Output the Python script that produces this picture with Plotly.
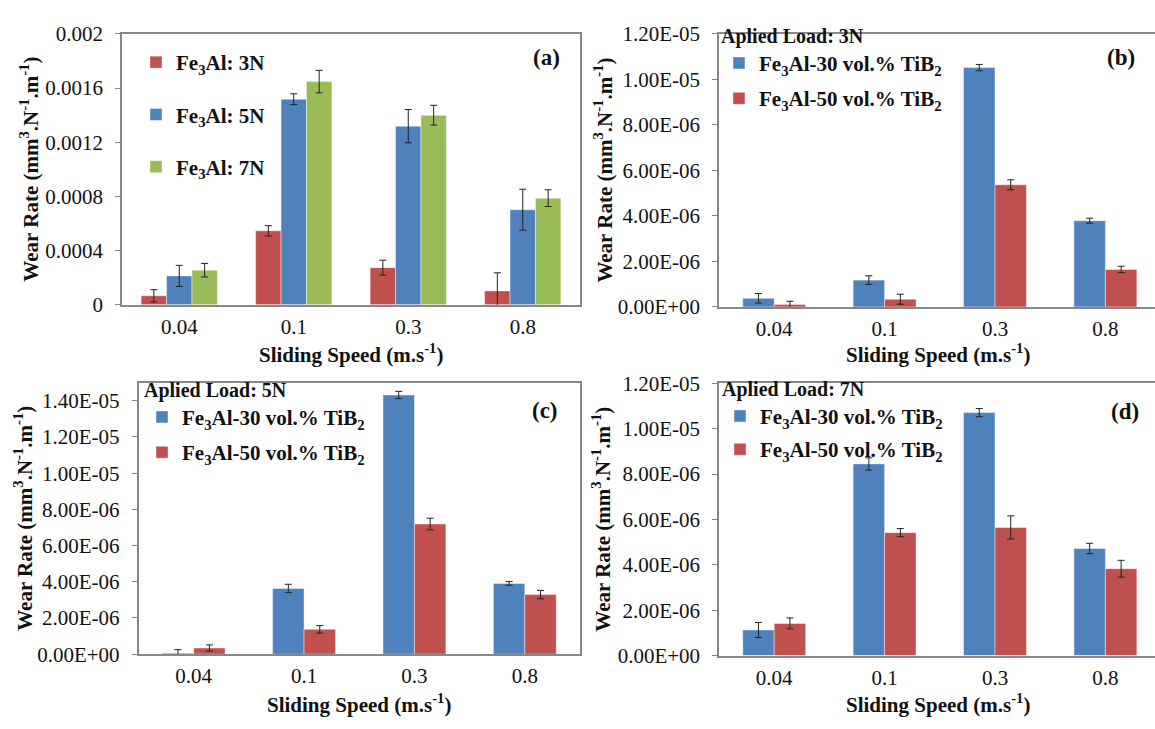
import plotly.graph_objects as go

W, H = 1155, 729

speeds = ["0.04", "0.1", "0.3", "0.8"]

# (a) Fe3Al wear rate at three loads
a_3N = [0.000066, 0.000546, 0.000274, 0.000102]
a_3N_err = [0.000045, 0.000038, 0.000055, 0.000134]
a_5N = [0.000213, 0.001518, 0.001319, 0.000702]
a_5N_err = [0.000078, 0.000040, 0.000123, 0.000151]
a_7N = [0.000255, 0.001648, 0.001400, 0.000787]
a_7N_err = [0.000050, 0.000083, 0.000073, 0.000062]

# (b) applied load 3N
b_30 = [0.38e-6, 1.18e-6, 10.52e-6, 3.79e-6]
b_30_err = [0.21e-6, 0.19e-6, 0.14e-6, 0.11e-6]
b_50 = [0.11e-6, 0.34e-6, 5.37e-6, 1.65e-6]
b_50_err = [0.14e-6, 0.22e-6, 0.22e-6, 0.14e-6]

# (c) applied load 5N
c_30 = [0.05e-6, 3.63e-6, 14.32e-6, 3.91e-6]
c_30_err = [0.20e-6, 0.23e-6, 0.20e-6, 0.10e-6]
c_50 = [0.34e-6, 1.37e-6, 7.19e-6, 3.29e-6]
c_50_err = [0.17e-6, 0.21e-6, 0.32e-6, 0.23e-6]

# (d) applied load 7N
d_30 = [1.13e-6, 8.45e-6, 10.71e-6, 4.72e-6]
d_30_err = [0.33e-6, 0.27e-6, 0.18e-6, 0.23e-6]
d_50 = [1.42e-6, 5.42e-6, 5.65e-6, 3.83e-6]
d_50_err = [0.24e-6, 0.18e-6, 0.51e-6, 0.37e-6]

a_tickvals = [0, 0.0004, 0.0008, 0.0012, 0.0016, 0.002]
a_ticktext = ["0", "0.0004", "0.0008", "0.0012", "0.0016", "0.002"]
bd_tickvals = [0, 2e-6, 4e-6, 6e-6, 8e-6, 10e-6, 12e-6]
bd_ticktext = ["0.00E+00", "2.00E-06", "4.00E-06", "6.00E-06", "8.00E-06", "1.00E-05", "1.20E-05"]
c_tickvals = [0, 2e-6, 4e-6, 6e-6, 8e-6, 10e-6, 12e-6, 14e-6]
c_ticktext = ["0.00E+00", "2.00E-06", "4.00E-06", "6.00E-06", "8.00E-06", "1.00E-05", "1.20E-05", "1.40E-05"]

RED = "#C0504D"
BLUE = "#4F81BD"
GREEN = "#9BBB59"
FONT = "Liberation Serif"
AXC = "#878787"
TXT = "#111111"

name_30 = "Fe<sub>3</sub>Al-30 vol.% TiB<sub>2</sub>"
name_50 = "Fe<sub>3</sub>Al-50 vol.% TiB<sub>2</sub>"


def bar(y, err, name, color, xa, ya, offset, width, legend, group):
    return go.Bar(
        x=speeds, y=y, name=name, xaxis=xa, yaxis=ya,
        offset=offset, width=width, legend=legend, legendgroup=group,
        marker=dict(color=color, line=dict(width=0.8, color="rgba(255,255,255,0.55)")),
        error_y=dict(type="data", array=err, color="#222222", thickness=1, width=3.5),
    )


fig = go.Figure()
wa = 0.222
fig.add_trace(bar(a_3N, a_3N_err, "Fe<sub>3</sub>Al: 3N", RED, "x", "y", -1.5 * wa, wa, "legend", "a1"))
fig.add_trace(bar(a_5N, a_5N_err, "Fe<sub>3</sub>Al: 5N", BLUE, "x", "y", -0.5 * wa, wa, "legend", "a2"))
fig.add_trace(bar(a_7N, a_7N_err, "Fe<sub>3</sub>Al: 7N", GREEN, "x", "y", 0.5 * wa, wa, "legend", "a3"))

wb = 0.285
fig.add_trace(bar(b_30, b_30_err, name_30, BLUE, "x2", "y2", -wb, wb, "legend2", "b1"))
fig.add_trace(bar(b_50, b_50_err, name_50, RED, "x2", "y2", 0, wb, "legend2", "b2"))
fig.add_trace(bar(c_30, c_30_err, name_30, BLUE, "x3", "y3", -wb, wb, "legend3", "c1"))
fig.add_trace(bar(c_50, c_50_err, name_50, RED, "x3", "y3", 0, wb, "legend3", "c2"))
fig.add_trace(bar(d_30, d_30_err, name_30, BLUE, "x4", "y4", -wb, wb, "legend4", "d1"))
fig.add_trace(bar(d_50, d_50_err, name_50, RED, "x4", "y4", 0, wb, "legend4", "d2"))

tickfont = dict(family=FONT, size=21, color=TXT)


def xax(x0, x1, yname, rng, mirror=True):
    return dict(domain=[x0 / W, x1 / W], anchor=yname, range=rng, type="category",
                showline=True, linecolor=AXC, linewidth=1.5, mirror=mirror,
                ticks="", showgrid=False, zeroline=False, tickfont=tickfont,
                ticklabelstandoff=2, fixedrange=True)


def yax(ytop, ybot, xname, rng, tv, tt, mirror=True):
    return dict(domain=[1 - ybot / H, 1 - ytop / H], anchor=xname, range=rng,
                tickvals=tv, ticktext=tt, showline=True, linecolor=AXC, linewidth=1.5,
                mirror=mirror, ticks="outside", ticklen=5, tickcolor=AXC,
                showgrid=False, zeroline=False, tickfont=tickfont,
                ticklabelstandoff=8, fixedrange=True)


full_b = 4 * 110.4
vis_b = 1155 - 719
rng_b = [-0.5, -0.5 + 4 * vis_b / full_b]

layout = dict(
    width=W, height=H, margin=dict(l=0, r=0, t=0, b=0),
    paper_bgcolor="white", plot_bgcolor="white", barmode="overlay",
    font=dict(family=FONT, size=20, color=TXT),
    xaxis=xax(122, 580, "y", [-0.5, 3.5]),
    yaxis=yax(22.7, 302.7, "x", [0, 0.002], a_tickvals, a_ticktext),
    xaxis2=xax(719, 1155, "y2", rng_b),
    yaxis2=yax(22.7, 305, "x2", [0, 1.2e-5], bd_tickvals, bd_ticktext, mirror=False),
    xaxis3=xax(138.5, 580, "y3", [-0.5, 3.5]),
    yaxis3=yax(383.3, 664, "x3", [0, 1.5e-5], c_tickvals, c_ticktext),
    xaxis4=xax(719, 1155, "y4", rng_b),
    yaxis4=yax(384, 665.5, "x4", [0, 1.2e-5], bd_tickvals, bd_ticktext, mirror=False),
)

legfont = dict(family=FONT, size=21, color=TXT, weight="bold")
titlefont = dict(family=FONT, size=20, color=TXT, weight="bold")
layout["legend"] = dict(x=136 / W, y=1 - 31 / H, xanchor="left", yanchor="top",
                        bgcolor="rgba(0,0,0,0)", font=legfont, traceorder="grouped",
                        tracegroupgap=22)
layout["legend2"] = dict(x=719 / W, y=1 - 5 / H, xanchor="left", yanchor="top",
                         bgcolor="rgba(0,0,0,0)", font=legfont, traceorder="grouped",
                         tracegroupgap=5,
                         title=dict(text="Aplied Load: 3N", font=titlefont))
layout["legend3"] = dict(x=142 / W, y=1 - 371 / H, xanchor="left", yanchor="top",
                         bgcolor="rgba(0,0,0,0)", font=legfont, traceorder="grouped",
                         tracegroupgap=5,
                         title=dict(text="Aplied Load: 5N", font=titlefont))
layout["legend4"] = dict(x=720 / W, y=1 - 370 / H, xanchor="left", yanchor="top",
                         bgcolor="rgba(0,0,0,0)", font=legfont, traceorder="grouped",
                         tracegroupgap=3,
                         title=dict(text="Aplied Load: 7N", font=titlefont))

ytitle = "<b>Wear Rate (mm<sup>3</sup>.N<sup>-1</sup>.m<sup>-1</sup>)</b>"
xtitle = "<b>Sliding Speed (m.s<sup>-1</sup>)</b>"
ann = []
for (px, py) in [(30, 163), (604, 164), (24, 524), (602, 525)]:
    ann.append(dict(text=ytitle, x=px / W, y=1 - py / H, xref="paper", yref="paper",
                    showarrow=False, textangle=-90, xanchor="center", yanchor="middle",
                    font=dict(family=FONT, size=21, color=TXT)))
for (px, py) in [(351, 353), (938, 353), (359, 715), (938, 715)]:
    ann.append(dict(text=xtitle, x=px / W, y=1 - py / H, xref="paper", yref="paper",
                    showarrow=False, xanchor="center", yanchor="middle",
                    font=dict(family=FONT, size=21, color=TXT)))
for (lab, px, py) in [("(a)", 546, 47), ("(b)", 1121, 47), ("(c)", 545, 412), ("(d)", 1125, 413)]:
    ann.append(dict(text="<b>" + lab + "</b>", x=px / W, y=1 - py / H, xref="paper", yref="paper",
                    showarrow=False, xanchor="center", yanchor="middle",
                    font=dict(family=FONT, size=23, color=TXT)))
layout["annotations"] = ann

fig.update_layout(**layout)
fig.write_html("out.html")
